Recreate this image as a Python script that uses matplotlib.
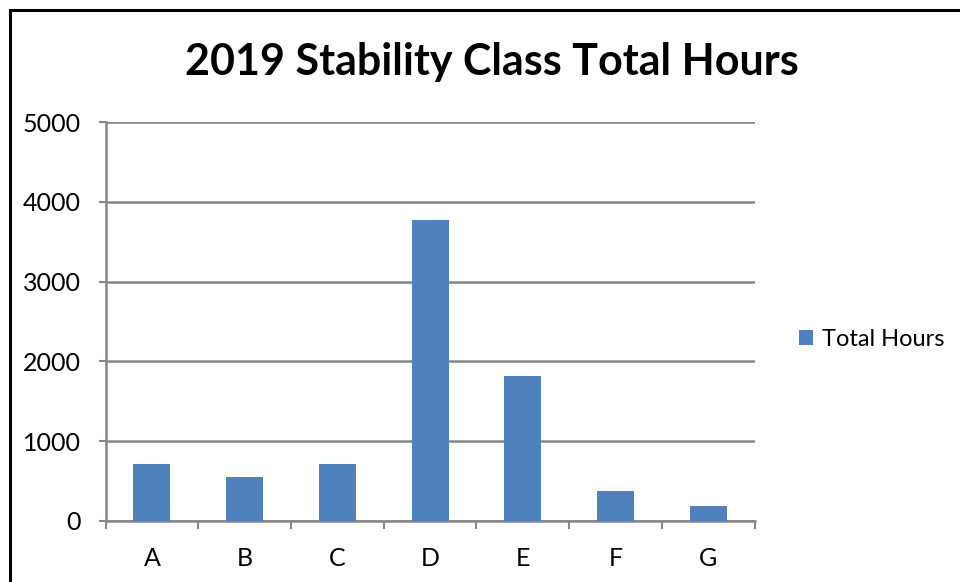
import matplotlib.pyplot as plt
from matplotlib.patches import Rectangle

# Stability class hours, 2019
classes = ['A', 'B', 'C', 'D', 'E', 'F', 'G']
total_hours = [708, 555, 708, 3770, 1823, 378, 183]
y_ticks = [0, 1000, 2000, 3000, 4000, 5000]

plt.rcParams['font.family'] = ['Lato', 'DejaVu Sans']

fig = plt.figure(figsize=(9.6, 5.82), dpi=100)
ax = fig.add_axes([0.110, 0.105, 0.676, 0.685])

x = range(len(classes))
ax.bar(x, total_hours, width=0.4, color='#4F81BD', label='Total Hours',
       zorder=3)

ax.set_xlim(-0.5, len(classes) - 0.5)
ax.set_ylim(0, 5000)
ax.set_yticks(y_ticks)
ax.set_xticks(list(x))
ax.set_xticklabels(classes)

# category boundary ticks like Excel
ax.set_xticks([i - 0.5 for i in range(len(classes) + 1)], minor=True)
ax.tick_params(axis='x', which='major', length=0, pad=19, labelsize=18)
ax.tick_params(axis='x', which='minor', length=6, width=1.5,
               color='#868686')
ax.tick_params(axis='y', length=5, width=1.5, color='#868686',
               labelsize=18, pad=13)

ax.grid(axis='y', color='#868686', linewidth=1.8, zorder=0)
for side in ['top', 'right']:
    ax.spines[side].set_visible(False)
for side in ['left', 'bottom']:
    ax.spines[side].set_color('#868686')
    ax.spines[side].set_linewidth(1.8)

fig.text(0.512, 0.893, '2019 Stability Class Total Hours',
         ha='center', va='center', fontsize=31, fontweight='bold')

ax.legend(loc='center left', bbox_to_anchor=(1.035, 0.455), frameon=False,
          fontsize=17, handlelength=0.6, handleheight=0.6,
          handletextpad=0.4)

# outer chart border
fig.patches.append(Rectangle((10 / 960, -0.1), 1.2, 1 - 10 / 582 + 0.1,
                             transform=fig.transFigure, fill=False,
                             edgecolor='black', linewidth=2.2))

fig.savefig('out.png', dpi=100)
